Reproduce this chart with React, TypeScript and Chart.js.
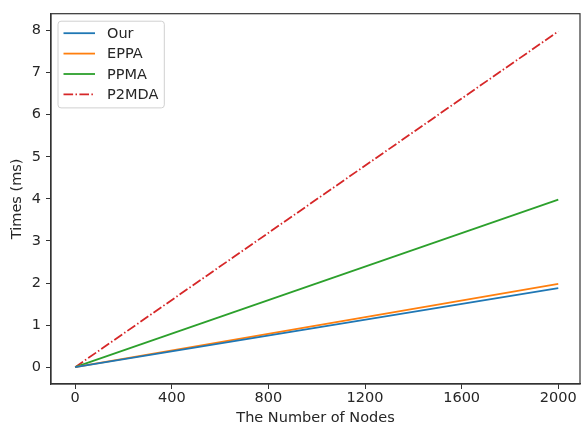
import React, { useEffect, useRef } from "react";
import { Chart, registerables } from "chart.js";

Chart.register(...registerables);

const nodes = [0, 2000];
const ourTimes = [0, 1.88];
const eppaTimes = [0, 1.98];
const ppmaTimes = [0, 3.98];
const p2mdaTimes = [0, 7.98];
const xTickValues = [0, 400, 800, 1200, 1600, 2000];
const yTickValues = [0, 1, 2, 3, 4, 5, 6, 7, 8];

const FONT = "'DejaVu Sans', 'Liberation Sans', sans-serif";
const FS = 14.5;
const TEXT = "#262626";
const AXIS = "#333";

const frame = {
  id: "frame",
  afterDraw(chart: any) {
    const { ctx, chartArea: a } = chart;
    ctx.save();
    ctx.strokeStyle = AXIS;
    ctx.lineWidth = 1.2;
    ctx.strokeRect(a.left, a.top, a.right - a.left, a.bottom - a.top);
    ctx.restore();
  },
};

const mplLegend = {
  id: "mplLegend",
  afterDraw(chart: any) {
    const { ctx, chartArea: a } = chart;
    const ds = chart.data.datasets;
    ctx.save();
    ctx.font = `${FS}px ${FONT}`;
    let maxW = 0;
    ds.forEach((d: any) => (maxW = Math.max(maxW, ctx.measureText(d.label).width)));
    const bx = a.left + 7;
    const by = a.top + 7.5;
    const bw = 49 + maxW + 6;
    const rowH = 20.4;
    const bh = 12 + rowH * (ds.length - 1) + 13.5;
    const r = 3;
    ctx.beginPath();
    ctx.moveTo(bx + r, by);
    ctx.lineTo(bx + bw - r, by);
    ctx.quadraticCurveTo(bx + bw, by, bx + bw, by + r);
    ctx.lineTo(bx + bw, by + bh - r);
    ctx.quadraticCurveTo(bx + bw, by + bh, bx + bw - r, by + bh);
    ctx.lineTo(bx + r, by + bh);
    ctx.quadraticCurveTo(bx, by + bh, bx, by + bh - r);
    ctx.lineTo(bx, by + r);
    ctx.quadraticCurveTo(bx, by, bx + r, by);
    ctx.closePath();
    ctx.fillStyle = "rgba(255,255,255,0.8)";
    ctx.fill();
    ctx.strokeStyle = "#d0d0d0";
    ctx.lineWidth = 1;
    ctx.stroke();
    ds.forEach((d: any, i: number) => {
      const cy = by + 12 + i * rowH;
      ctx.beginPath();
      ctx.setLineDash(d.borderDash || []);
      ctx.strokeStyle = d.borderColor;
      ctx.lineWidth = d.borderWidth;
      ctx.moveTo(bx + 5.5, cy);
      ctx.lineTo(bx + 37, cy);
      ctx.stroke();
      ctx.setLineDash([]);
      ctx.fillStyle = TEXT;
      ctx.textBaseline = "middle";
      ctx.textAlign = "left";
      ctx.fillText(d.label, bx + 49, cy + 1);
    });
    ctx.restore();
  },
};

export default function App() {
  const ref = useRef<HTMLCanvasElement>(null);
  useEffect(() => {
    if (!ref.current) return;
    const mk = (label: string, vals: number[], color: string, dash?: number[]) => ({
      label,
      data: nodes.map((x, i) => ({ x, y: vals[i] })),
      borderColor: color,
      backgroundColor: color,
      borderWidth: 1.8,
      borderDash: dash,
      pointRadius: 0,
      fill: false,
      tension: 0,
    });
    const tickFont = { family: FONT, size: FS };
    const chart = new Chart(ref.current, {
      type: "line",
      data: {
        datasets: [
          mk("Our", ourTimes, "#1f77b4"),
          mk("EPPA", eppaTimes, "#ff7f0e"),
          mk("PPMA", ppmaTimes, "#2ca02c"),
          mk("P2MDA", p2mdaTimes, "#d62728", [9.6, 2.4, 1.5, 2.4]),
        ],
      },
      options: {
        responsive: false,
        animation: false,
        layout: { padding: { top: 10, right: 1, left: 0, bottom: 0 } },
        plugins: { legend: { display: false }, tooltip: { enabled: false } },
        scales: {
          x: {
            type: "linear",
            min: -100,
            max: 2090,
            afterBuildTicks: (s: any) => {
              s.ticks = xTickValues.map((v) => ({ value: v }));
            },
            afterFit: (s: any) => {
              s.height = 44;
            },
            ticks: {
              font: tickFont,
              color: TEXT,
              padding: 1,
              maxRotation: 0,
              autoSkip: false,
              callback: (v: any) => String(v),
            },
            grid: { drawOnChartArea: false, drawTicks: true, tickLength: 5, color: AXIS, lineWidth: 1 },
            border: { display: true, color: AXIS, width: 1.2 },
            title: {
              display: true,
              text: "The Number of Nodes",
              font: tickFont,
              color: TEXT,
              padding: { top: 0, bottom: 1 },
            },
          },
          y: {
            type: "linear",
            min: -0.4,
            max: 8.4,
            afterBuildTicks: (s: any) => {
              s.ticks = yTickValues.map((v) => ({ value: v }));
            },
            afterFit: (s: any) => {
              s.width = 51;
            },
            ticks: {
              font: tickFont,
              color: TEXT,
              padding: 5,
              autoSkip: false,
              callback: (v: any) => String(v),
            },
            grid: { drawOnChartArea: false, drawTicks: true, tickLength: 5, color: AXIS, lineWidth: 1 },
            border: { display: true, color: AXIS, width: 1.2 },
            title: {
              display: true,
              text: "Times (ms)",
              font: tickFont,
              color: TEXT,
              padding: { top: 9, bottom: 0 },
            },
          },
        },
      },
      plugins: [frame, mplLegend],
    });
    return () => chart.destroy();
  }, []);
  return (
    <div style={{ position: "absolute", left: 0, top: 0, width: 581, height: 428, background: "#fff" }}>
      <canvas ref={ref} width={581} height={428} />
    </div>
  );
}
